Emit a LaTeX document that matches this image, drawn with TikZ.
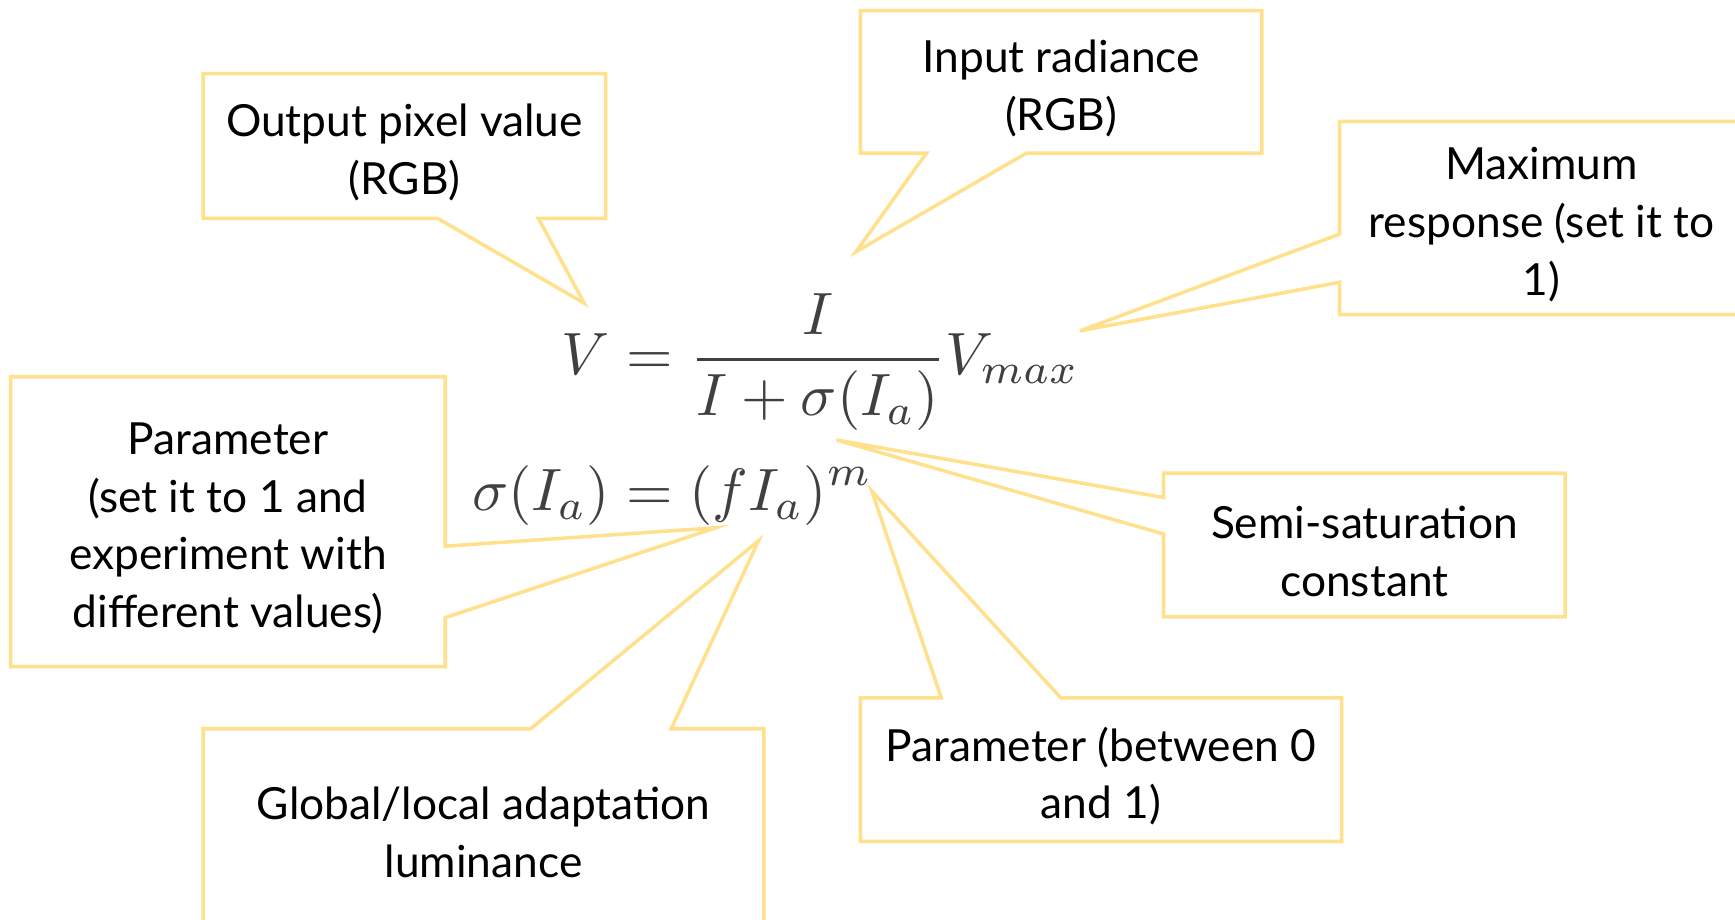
\documentclass[tikz,border=0pt]{standalone}
\usepackage{amsmath}
\usepackage{fontspec}
\setmainfont{Lato}
\usetikzlibrary{calc}
\definecolor{CalloutLine}{HTML}{FFE08C}
\definecolor{MathGrey}{HTML}{404040}

\begin{document}
\begin{tikzpicture}[
  x=0.5pt, y=-0.5pt,
  notebox/.style={inner sep=0pt},
  note/.style={inner sep=0pt, align=center, yshift=-3pt, font=\fontsize{20}{26}\selectfont},
  callout/.style={draw=CalloutLine, line width=1.6pt}
]
  \useasboundingbox (0,0) rectangle (1568,831);
  \clip (0,0) rectangle (1568,831);

  % the two formulas
  \node[text=MathGrey, scale=2.7, inner sep=0pt] (eqn) at (701,373)
    {$\begin{aligned} V &= \frac{I}{I+\sigma(I_a)}V_{max}\\[1pt] \sigma(I_a) &= (fI_a)^m\end{aligned}$};

  % callout boxes
  \node[notebox, minimum width=181.5pt, minimum height=65pt] (outpix) at (365.5,132) {};
  \node[notebox, minimum width=181pt, minimum height=64pt] (inrad) at (959,74) {};
  \node[notebox, minimum width=182pt, minimum height=87pt] (maxresp) at (1393,197) {};
  \node[notebox, minimum width=196pt, minimum height=130.5pt] (paramf) at (206,471.5) {};
  \node[notebox, minimum width=181pt, minimum height=64.5pt] (semisat) at (1233,492.5) {};
  \node[notebox, minimum width=253pt, minimum height=87pt] (adapt) at (437,746) {};
  \node[notebox, minimum width=217pt, minimum height=64.5pt] (paramm) at (995,695.5) {};

  % callout texts
  \node[note] (outpixtxt) at (outpix.center) {Output pixel value\\(RGB)};
  \node[note] (inradtxt) at (inrad.center) {Input radiance\\(RGB)};
  \node[note] (maxresptxt) at (maxresp.center) {Maximum\\response (set it to\\1)};
  \node[note] (paramftxt) at (paramf.center) {Parameter\\(set it to 1 and\\experiment with\\different values)};
  \node[note] (semisattxt) at (semisat.center) {Semi-saturation\\constant};
  \node[note] (adapttxt) at (adapt.center) {Global/local adaptation\\luminance};
  \node[note] (parammtxt) at (paramm.center) {Parameter (between 0\\and 1)};

  % pointer tips
  \coordinate (tipV) at (528,274);
  \coordinate (tipI) at (773.6,227.5);
  \coordinate (tipVmax) at (976,299);
  \coordinate (tipf) at (646.7,477);
  \coordinate (tipsigma) at (756,397.6);
  \coordinate (tipIa) at (685.6,488.6);
  \coordinate (tipm) at (788,444);

  % callout outlines
  \draw[callout] (outpix.north west) -- (outpix.north east) -- (outpix.south east) -- ($(outpix.south west)+(303,0)$) -- (tipV) -- ($(outpix.south west)+(212,0)$) -- (outpix.south west) -- cycle;
  \draw[callout] (inrad.north west) -- (inrad.north east) -- (inrad.south east) -- ($(inrad.south west)+(150,0)$) -- (tipI) -- ($(inrad.south west)+(59.6,0)$) -- (inrad.south west) -- cycle;
  \draw[callout] (maxresp.north west) -- (maxresp.north east) -- (maxresp.south east) -- (maxresp.south west) -- ($(maxresp.north west)+(0,145.5)$) -- (tipVmax) -- ($(maxresp.north west)+(0,102)$) -- cycle;
  \draw[callout] (paramf.north west) -- (paramf.north east) -- ($(paramf.north east)+(0,153)$) -- (tipf) -- ($(paramf.north east)+(0,217.6)$) -- (paramf.south east) -- (paramf.south west) -- cycle;
  \draw[callout] (semisat.north west) -- (semisat.north east) -- (semisat.south east) -- (semisat.south west) -- ($(semisat.north west)+(0,55)$) -- (tipsigma) -- ($(semisat.north west)+(0,22)$) -- cycle;
  \draw[callout] (adapt.north west) -- ($(adapt.north west)+(296,0)$) -- (tipIa) -- ($(adapt.north west)+(423,0)$) -- (adapt.north east) -- (adapt.south east) -- (adapt.south west) -- cycle;
  \draw[callout] (paramm.north west) -- ($(paramm.north west)+(73,0)$) -- (tipm) -- ($(paramm.north west)+(181,0)$) -- (paramm.north east) -- (paramm.south east) -- (paramm.south west) -- cycle;
\end{tikzpicture}
\end{document}
